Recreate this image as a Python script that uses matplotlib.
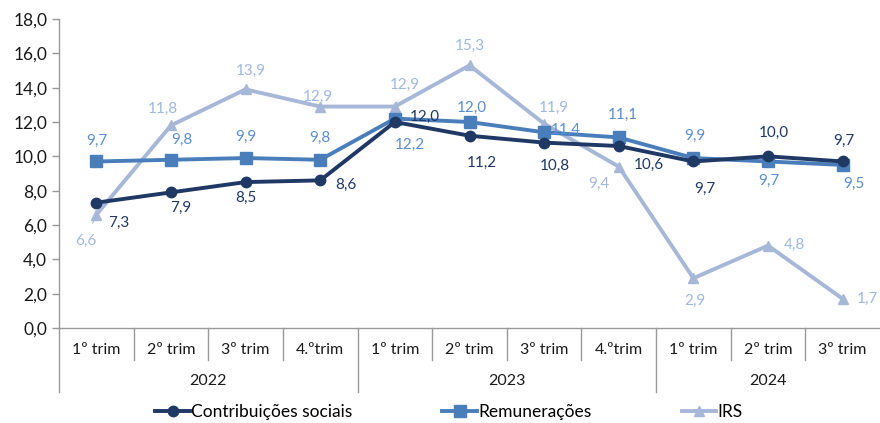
import matplotlib
matplotlib.use("Agg")
import matplotlib.pyplot as plt
from matplotlib.transforms import blended_transform_factory
from matplotlib.lines import Line2D

plt.rcParams['font.family'] = ['Lato', 'DejaVu Sans']

quarters = ["1º trim", "2º trim", "3º trim", "4.ºtrim",
            "1º trim", "2º trim", "3º trim", "4.ºtrim",
            "1º trim", "2º trim", "3º trim"]
years = ["2022", "2023", "2024"]
year_sizes = [4, 4, 3]

contribuicoes = [7.3, 7.9, 8.5, 8.6, 12.0, 11.2, 10.8, 10.6, 9.7, 10.0, 9.7]
remuneracoes = [9.7, 9.8, 9.9, 9.8, 12.2, 12.0, 11.4, 11.1, 9.9, 9.7, 9.5]
irs = [6.6, 11.8, 13.9, 12.9, 12.9, 15.3, 11.9, 9.4, 2.9, 4.8, 1.7]

c_dark = "#1F3864"
c_mid = "#4A7EBB"
c_light = "#A6B7D8"
lab_dark = "#1F3864"
lab_mid = "#5B8ED0"
lab_light = "#9FB8E0"

# label offsets in pixels (dx, dy) relative to each point
off_contrib = [(22, -20), (10, -16), (0, -16), (26, -5), (30, 5), (12, -27),
               (11, -23), (30, -19), (11, -27), (6, 23), (1, 21)]
off_remun = [(1, 21), (11, 20), (0, 21), (0, 22), (15, -26), (2, 14),
             (22, 2), (4, 23), (1, 22), (1, -19), (11, -19)]
off_irs = [(-11, -26), (-8, 17), (5, 18), (-2, 10), (10, 22), (0, 19),
           (10, 16), (-20, -17), (2, -23), (26, 1), (25, 0)]
# labels connected to their point by a short leader line
leader_irs = {0, 4, 8}

fig = plt.figure(figsize=(8.8, 4.23), dpi=100)
ax = fig.add_axes([59 / 880, (423 - 328) / 423, 1 - 59 / 880, (328 - 19) / 423])

x = list(range(len(quarters)))
ax.plot(x, irs, color=c_light, lw=2.8, marker="^", ms=7, zorder=2)
ax.plot(x, remuneracoes, color=c_mid, lw=2.8, marker="s", ms=8.5, zorder=3)
ax.plot(x, contribuicoes, color=c_dark, lw=2.8, marker="o", ms=7.5, zorder=4)

for vals, offs, col, leaders in [(contribuicoes, off_contrib, lab_dark, set()),
                                 (remuneracoes, off_remun, lab_mid, set()),
                                 (irs, off_irs, lab_light, leader_irs)]:
    for i, (xi, v, (dx, dy)) in enumerate(zip(x, vals, offs)):
        kw = {}
        if i in leaders:
            kw["arrowprops"] = dict(arrowstyle="-", color=c_light, lw=0.8,
                                    shrinkA=6, shrinkB=4)
        ax.annotate(f"{v:.1f}".replace(".", ","), (xi, v), xytext=(dx, dy),
                    textcoords="offset pixels", ha="center", va="center",
                    fontsize=11, color=col, zorder=5, **kw)

ax.set_xlim(-0.5, 10.5)
ax.set_ylim(0, 18)
ax.set_yticks(range(0, 19, 2))
ax.set_yticklabels([f"{t:.1f}".replace(".", ",") for t in range(0, 19, 2)],
                   fontsize=12.5, color="#1a1a1a")
ax.tick_params(axis="y", length=5, color="#999999", width=1)
ax.set_xticks([])
for s in ["top", "right"]:
    ax.spines[s].set_visible(False)
ax.spines["left"].set_color("#999999")
ax.spines["bottom"].set_color("#999999")
ax.spines["left"].set_linewidth(1)
ax.spines["bottom"].set_linewidth(1)

# two-level category axis
tr = blended_transform_factory(ax.transData, fig.transFigure)
y_axis = (423 - 328) / 423
y_q_end = (423 - 360) / 423
y_y_end = (423 - 392) / 423
year_bounds = set()
pos = -0.5
for n in year_sizes:
    year_bounds.add(pos)
    pos += n
for k in range(len(quarters)):
    xb = k - 0.5
    y_end = y_y_end if xb in year_bounds else y_q_end
    fig.add_artist(Line2D([xb, xb], [y_axis, y_end], transform=tr,
                          color="#999999", lw=1))
for xi, q in zip(x, quarters):
    fig.text(xi, (423 - 350) / 423, q, transform=tr, ha="center", va="center",
             fontsize=11.5, color="#1a1a1a")
start = 0
for yr, n in zip(years, year_sizes):
    fig.text(start + (n - 1) / 2, (423 - 381) / 423, yr, transform=tr,
             ha="center", va="center", fontsize=11.5, color="#1a1a1a")
    start += n

handles = [
    Line2D([], [], color=c_dark, lw=2.8, marker="o", ms=7.5),
    Line2D([], [], color=c_mid, lw=2.8, marker="s", ms=8.5),
    Line2D([], [], color=c_light, lw=2.8, marker="^", ms=7),
]
fig.legend(handles, ["Contribuições sociais", "Remunerações", "IRS"],
           loc="center", bbox_to_anchor=(0.51, (423 - 412) / 423), ncol=3,
           frameon=False, fontsize=12.5, handlelength=2.0, handletextpad=0.05,
           columnspacing=5.2)

fig.savefig("out.png", dpi=100)
